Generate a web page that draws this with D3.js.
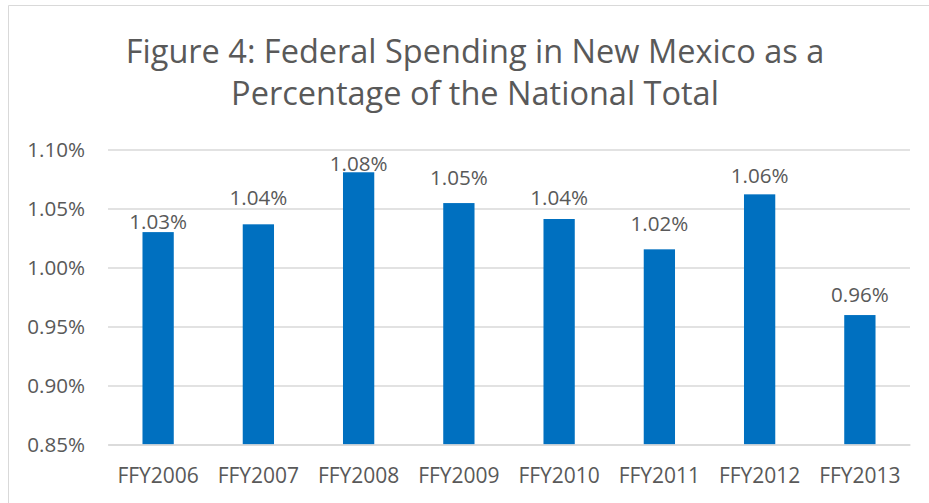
<!DOCTYPE html>
<html>
<head>
<meta charset="utf-8">
<script src="https://cdn.jsdelivr.net/npm/d3@7"></script>
<style>
  body { margin: 0; background: #fff; }
  svg text { font-family: "Open Sans", sans-serif; fill: #595959; }
</style>
</head>
<body>
<svg id="chart" width="929" height="503"></svg>
<script>
var years = ["FFY2006", "FFY2007", "FFY2008", "FFY2009", "FFY2010", "FFY2011", "FFY2012", "FFY2013"];
var share = [1.030, 1.0366, 1.0807, 1.0546, 1.0411, 1.0154, 1.062, 0.9597];
var yTicks = [0.85, 0.90, 0.95, 1.00, 1.05, 1.10];
var titleLines = ["Figure 4: Federal Spending in New Mexico as a", "Percentage of the National Total"];

// gap between each label's baseline and the bar top (labels were hand-placed)
var labelGap = [3, 19, 1, 18, 14, 18, 11, 13];

var svg = d3.select("#chart"),
  margin = {left: 108, right: 19, top: 149.5, bottom: 58.5},
  width = +svg.attr("width"),
  height = +svg.attr("height");

// chart frame (only left + top edges are in view)
svg.append("path")
  .attr("d", "M8.5,503V5.5H929")
  .attr("fill", "none")
  .attr("stroke", "#d9d9d9")
  .attr("stroke-width", 1);

svg.selectAll(".title")
  .data(titleLines)
  .enter().append("text")
    .attr("x", 475)
    .attr("y", function(d, i) { return 63 + i * 42; })
    .attr("text-anchor", "middle")
    .style("font-size", "32.5px")
    .text(function(d) { return d; });

var x = d3.scaleBand()
  .domain(years)
  .range([margin.left, width - margin.right])
  .paddingInner(0.688)
  .paddingOuter(0.344);

var y = d3.scaleLinear()
  .domain([0.85, 1.10])
  .range([height - margin.bottom, margin.top]);

var grid = svg.append("g")
  .attr("transform", "translate(" + margin.left + ",0)")
  .call(d3.axisLeft(y)
    .tickValues(yTicks)
    .tickSize(-(width - margin.right - margin.left))
    .tickPadding(23)
    .tickFormat(function(d) { return d3.format(".2f")(d) + "%"; }));
grid.select(".domain").remove();
grid.selectAll(".tick line").attr("stroke", "#d9d9d9").attr("stroke-width", 1.5);
grid.selectAll(".tick text")
  .style("font-size", "20.6px")
  .attr("fill", "#595959");

svg.selectAll(".bar")
  .data(share)
  .enter().append("rect")
    .attr("class", "bar")
    .attr("x", function(d, i) { return x(years[i]); })
    .attr("y", function(d) { return y(d); })
    .attr("width", x.bandwidth())
    .attr("height", function(d) { return y(0.85) - y(d); })
    .attr("fill", "#0070c0");

svg.selectAll(".lbl")
  .data(share)
  .enter().append("text")
    .attr("class", "lbl")
    .attr("x", function(d, i) { return x(years[i]) + x.bandwidth() / 2; })
    .attr("y", function(d, i) { return y(d) - labelGap[i]; })
    .attr("text-anchor", "middle")
    .style("font-size", "20.6px")
    .text(function(d) { return d3.format(".2f")(d) + "%"; });

var xa = svg.append("g")
  .attr("transform", "translate(0," + (height - margin.bottom) + ")")
  .call(d3.axisBottom(x).tickSize(0).tickPadding(24));
xa.select(".domain").attr("stroke", "#d9d9d9").attr("stroke-width", 1.5);
xa.selectAll(".tick text")
  .style("font-size", "21px")
  .attr("fill", "#595959");
</script>
</body>
</html>
